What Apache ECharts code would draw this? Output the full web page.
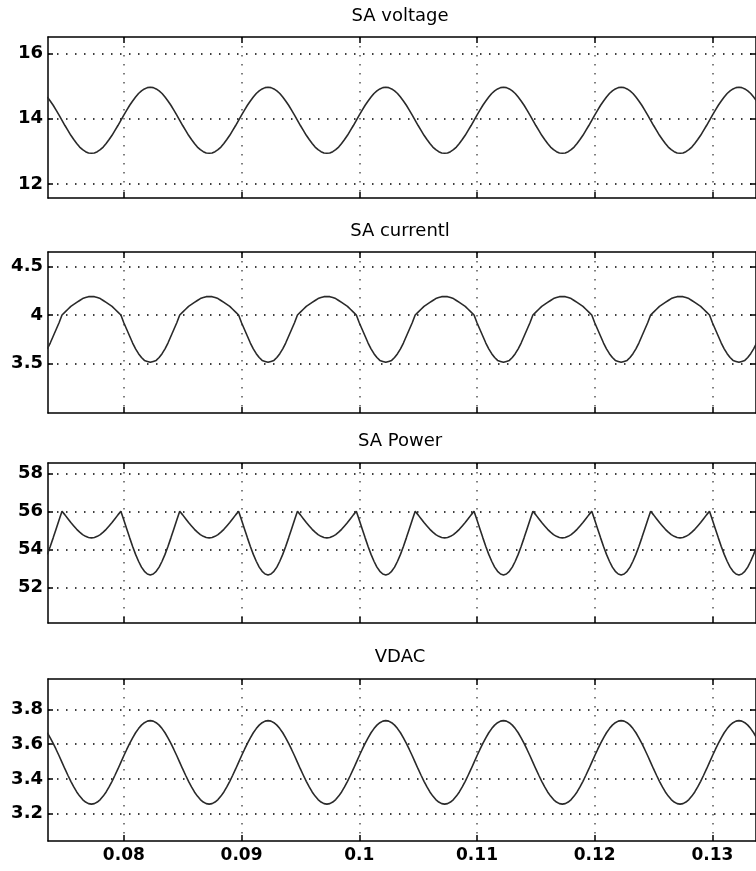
<!DOCTYPE html>
<html>
<head>
<meta charset="utf-8">
<script src="https://cdn.jsdelivr.net/npm/echarts@6/dist/echarts.min.js"></script>
<style>
html,body{margin:0;padding:0;background:#fff;}
#c{width:756px;height:871px;}
</style>
</head>
<body>
<div id="c"></div>
<script>
// ---- data (sampled every 0.25 ms starting at t = 0.0735 s) ----
const tStart = 0.0735;
const tStep = 0.00025;

const titles = ["SA voltage", "SA currentl", "SA Power", "VDAC"];
const xTicks = [0.08, 0.09, 0.1, 0.11, 0.12, 0.13];
const yTicksVoltage = [12, 14, 16];
const yTicksCurrent = [3.5, 4, 4.5];
const yTicksPower = [52, 54, 56, 58];
const yTicksVdac = [3.2, 3.4, 3.6, 3.8];

const saVoltage = [
14.66,14.54,14.41,14.26,14.11,13.95,13.79,13.64,13.49,13.36,13.24,13.13,13.05,12.99,12.95,12.94,12.95,12.99,13.05,13.13,13.24,13.36,13.49,13.64,13.79,13.95,14.11,14.26,14.41,14.54,14.66,14.77,14.85,14.91,14.95,14.96,14.95,14.91,14.85,14.77,
14.66,14.54,14.41,14.26,14.11,13.95,13.79,13.64,13.49,13.36,13.24,13.13,13.05,12.99,12.95,12.94,12.95,12.99,13.05,13.13,13.24,13.36,13.49,13.64,13.79,13.95,14.11,14.26,14.41,14.54,14.66,14.77,14.85,14.91,14.95,14.96,14.95,14.91,14.85,14.77,
14.66,14.54,14.41,14.26,14.11,13.95,13.79,13.64,13.49,13.36,13.24,13.13,13.05,12.99,12.95,12.94,12.95,12.99,13.05,13.13,13.24,13.36,13.49,13.64,13.79,13.95,14.11,14.26,14.41,14.54,14.66,14.77,14.85,14.91,14.95,14.96,14.95,14.91,14.85,14.77,
14.66,14.54,14.41,14.26,14.11,13.95,13.79,13.64,13.49,13.36,13.24,13.13,13.05,12.99,12.95,12.94,12.95,12.99,13.05,13.13,13.24,13.36,13.49,13.64,13.79,13.95,14.11,14.26,14.41,14.54,14.66,14.77,14.85,14.91,14.95,14.96,14.95,14.91,14.85,14.77,
14.66,14.54,14.41,14.26,14.11,13.95,13.79,13.64,13.49,13.36,13.24,13.13,13.05,12.99,12.95,12.94,12.95,12.99,13.05,13.13,13.24,13.36,13.49,13.64,13.79,13.95,14.11,14.26,14.41,14.54,14.66,14.77,14.85,14.91,14.95,14.96,14.95,14.91,14.85,14.77,
14.66,14.54,14.41,14.26,14.11,13.95,13.79,13.64,13.49,13.36,13.24,13.13,13.05,12.99,12.95,12.94,12.95,12.99,13.05,13.13,13.24,13.36,13.49,13.64,13.79,13.95,14.11,14.26,14.41,14.54,14.66,14.77,14.85,14.91,14.95,14.96,14.95,14.91,14.85,14.77,
14.66,14.54
];

const saCurrent = [
3.65,3.71,3.78,3.85,3.92,4.00,4.03,4.06,4.09,4.11,4.13,4.15,4.17,4.18,4.19,4.19,4.19,4.18,4.17,4.15,4.13,4.11,4.09,4.06,4.03,4.00,3.92,3.85,3.78,3.71,3.65,3.60,3.56,3.53,3.52,3.51,3.52,3.53,3.56,3.60,
3.65,3.71,3.78,3.85,3.92,4.00,4.03,4.06,4.09,4.11,4.13,4.15,4.17,4.18,4.19,4.19,4.19,4.18,4.17,4.15,4.13,4.11,4.09,4.06,4.03,4.00,3.92,3.85,3.78,3.71,3.65,3.60,3.56,3.53,3.52,3.51,3.52,3.53,3.56,3.60,
3.65,3.71,3.78,3.85,3.92,4.00,4.03,4.06,4.09,4.11,4.13,4.15,4.17,4.18,4.19,4.19,4.19,4.18,4.17,4.15,4.13,4.11,4.09,4.06,4.03,4.00,3.92,3.85,3.78,3.71,3.65,3.60,3.56,3.53,3.52,3.51,3.52,3.53,3.56,3.60,
3.65,3.71,3.78,3.85,3.92,4.00,4.03,4.06,4.09,4.11,4.13,4.15,4.17,4.18,4.19,4.19,4.19,4.18,4.17,4.15,4.13,4.11,4.09,4.06,4.03,4.00,3.92,3.85,3.78,3.71,3.65,3.60,3.56,3.53,3.52,3.51,3.52,3.53,3.56,3.60,
3.65,3.71,3.78,3.85,3.92,4.00,4.03,4.06,4.09,4.11,4.13,4.15,4.17,4.18,4.19,4.19,4.19,4.18,4.17,4.15,4.13,4.11,4.09,4.06,4.03,4.00,3.92,3.85,3.78,3.71,3.65,3.60,3.56,3.53,3.52,3.51,3.52,3.53,3.56,3.60,
3.65,3.71,3.78,3.85,3.92,4.00,4.03,4.06,4.09,4.11,4.13,4.15,4.17,4.18,4.19,4.19,4.19,4.18,4.17,4.15,4.13,4.11,4.09,4.06,4.03,4.00,3.92,3.85,3.78,3.71,3.65,3.60,3.56,3.53,3.52,3.51,3.52,3.53,3.56,3.60,
3.65,3.71
];

const saPower = [
53.73,54.15,54.60,55.07,55.54,56.00,55.81,55.61,55.41,55.23,55.05,54.90,54.77,54.68,54.62,54.60,54.62,54.68,54.77,54.90,55.05,55.23,55.41,55.61,55.81,56.00,55.54,55.07,54.60,54.15,53.73,53.37,53.06,52.84,52.70,52.65,52.70,52.84,53.06,53.37,
53.73,54.15,54.60,55.07,55.54,56.00,55.81,55.61,55.41,55.23,55.05,54.90,54.77,54.68,54.62,54.60,54.62,54.68,54.77,54.90,55.05,55.23,55.41,55.61,55.81,56.00,55.54,55.07,54.60,54.15,53.73,53.37,53.06,52.84,52.70,52.65,52.70,52.84,53.06,53.37,
53.73,54.15,54.60,55.07,55.54,56.00,55.81,55.61,55.41,55.23,55.05,54.90,54.77,54.68,54.62,54.60,54.62,54.68,54.77,54.90,55.05,55.23,55.41,55.61,55.81,56.00,55.54,55.07,54.60,54.15,53.73,53.37,53.06,52.84,52.70,52.65,52.70,52.84,53.06,53.37,
53.73,54.15,54.60,55.07,55.54,56.00,55.81,55.61,55.41,55.23,55.05,54.90,54.77,54.68,54.62,54.60,54.62,54.68,54.77,54.90,55.05,55.23,55.41,55.61,55.81,56.00,55.54,55.07,54.60,54.15,53.73,53.37,53.06,52.84,52.70,52.65,52.70,52.84,53.06,53.37,
53.73,54.15,54.60,55.07,55.54,56.00,55.81,55.61,55.41,55.23,55.05,54.90,54.77,54.68,54.62,54.60,54.62,54.68,54.77,54.90,55.05,55.23,55.41,55.61,55.81,56.00,55.54,55.07,54.60,54.15,53.73,53.37,53.06,52.84,52.70,52.65,52.70,52.84,53.06,53.37,
53.73,54.15,54.60,55.07,55.54,56.00,55.81,55.61,55.41,55.23,55.05,54.90,54.77,54.68,54.62,54.60,54.62,54.68,54.77,54.90,55.05,55.23,55.41,55.61,55.81,56.00,55.54,55.07,54.60,54.15,53.73,53.37,53.06,52.84,52.70,52.65,52.70,52.84,53.06,53.37,
53.73,54.15
];

const vdac = [
3.665,3.636,3.604,3.569,3.533,3.495,3.457,3.421,3.386,3.354,3.325,3.301,3.281,3.267,3.258,3.255,3.258,3.267,3.281,3.301,3.325,3.354,3.386,3.421,3.457,3.495,3.533,3.569,3.604,3.636,3.665,3.689,3.709,3.723,3.732,3.735,3.732,3.723,3.709,3.689,
3.665,3.636,3.604,3.569,3.533,3.495,3.457,3.421,3.386,3.354,3.325,3.301,3.281,3.267,3.258,3.255,3.258,3.267,3.281,3.301,3.325,3.354,3.386,3.421,3.457,3.495,3.533,3.569,3.604,3.636,3.665,3.689,3.709,3.723,3.732,3.735,3.732,3.723,3.709,3.689,
3.665,3.636,3.604,3.569,3.533,3.495,3.457,3.421,3.386,3.354,3.325,3.301,3.281,3.267,3.258,3.255,3.258,3.267,3.281,3.301,3.325,3.354,3.386,3.421,3.457,3.495,3.533,3.569,3.604,3.636,3.665,3.689,3.709,3.723,3.732,3.735,3.732,3.723,3.709,3.689,
3.665,3.636,3.604,3.569,3.533,3.495,3.457,3.421,3.386,3.354,3.325,3.301,3.281,3.267,3.258,3.255,3.258,3.267,3.281,3.301,3.325,3.354,3.386,3.421,3.457,3.495,3.533,3.569,3.604,3.636,3.665,3.689,3.709,3.723,3.732,3.735,3.732,3.723,3.709,3.689,
3.665,3.636,3.604,3.569,3.533,3.495,3.457,3.421,3.386,3.354,3.325,3.301,3.281,3.267,3.258,3.255,3.258,3.267,3.281,3.301,3.325,3.354,3.386,3.421,3.457,3.495,3.533,3.569,3.604,3.636,3.665,3.689,3.709,3.723,3.732,3.735,3.732,3.723,3.709,3.689,
3.665,3.636,3.604,3.569,3.533,3.495,3.457,3.421,3.386,3.354,3.325,3.301,3.281,3.267,3.258,3.255,3.258,3.267,3.281,3.301,3.325,3.354,3.386,3.421,3.457,3.495,3.533,3.569,3.604,3.636,3.665,3.689,3.709,3.723,3.732,3.735,3.732,3.723,3.709,3.689,
3.665,3.636
];

// ---- chart construction ----
const times = saVoltage.map((_, k) => +(tStart + k * tStep).toFixed(5));
const seriesValues = [saVoltage, saCurrent, saPower, vdac];
const yTickSets = [yTicksVoltage, yTicksCurrent, yTicksPower, yTicksVdac];

const panels = [
  { top: 37,  height: 161, yMin: 11.571, yMax: 16.5,  titleY: 16 },
  { top: 252, height: 161, yMin: 2.986,  yMax: 4.652, titleY: 231 },
  { top: 463, height: 160, yMin: 50.12,  yMax: 58.54, titleY: 441 },
  { top: 679, height: 162, yMin: 3.043,  yMax: 3.974, titleY: 657 }
];
const xMin = 0.07356, xMax = 0.13370;
const gridLeft = 48, gridWidth = 710;

const black = '#000';
const labelFont = { color: black, fontFamily: 'DejaVu Sans', fontWeight: 'bold', fontSize: 17 };

const grid = [], xAxis = [], yAxis = [], series = [], graphic = [];
panels.forEach((p, i) => {
  grid.push({ left: gridLeft, top: p.top, width: gridWidth, height: p.height, containLabel: false });
  const xi = xAxis.length;
  xAxis.push({
    type: 'value', gridIndex: i, min: xMin, max: xMax, position: 'bottom',
    axisLine: { show: true, onZero: false, lineStyle: { color: black, width: 1.5 } },
    axisTick: { show: true, inside: true, length: 6, customValues: xTicks, lineStyle: { color: black, width: 1.5 } },
    axisLabel: Object.assign({ show: i === 3, customValues: xTicks, margin: 6 }, labelFont),
    splitLine: { show: true, lineStyle: { color: '#555', width: 1.5, type: [1.5, 7.5] } }
  });
  xAxis.push({
    type: 'value', gridIndex: i, min: xMin, max: xMax, position: 'top',
    axisLine: { show: true, onZero: false, lineStyle: { color: black, width: 1.5 } },
    axisTick: { show: true, inside: true, length: 6, customValues: xTicks, lineStyle: { color: black, width: 1.5 } },
    axisLabel: { show: false },
    splitLine: { show: false }
  });
  const yi = yAxis.length;
  yAxis.push({
    type: 'value', gridIndex: i, min: p.yMin, max: p.yMax, position: 'left',
    axisLine: { show: true, onZero: false, lineStyle: { color: black, width: 1.5 } },
    axisTick: { show: true, inside: true, length: 5, customValues: yTickSets[i], lineStyle: { color: black, width: 1.5 } },
    axisLabel: { show: true, customValues: yTickSets[i], margin: 5, fontSize: 18, color: black, fontFamily: 'DejaVu Sans', fontWeight: 'bold' },
    splitLine: { show: true, lineStyle: { color: black, width: 1.5, type: [1.5, 7.5] } }
  });
  yAxis.push({
    type: 'value', gridIndex: i, min: p.yMin, max: p.yMax, position: 'right',
    axisLine: { show: true, onZero: false, lineStyle: { color: black, width: 1.5 } },
    axisTick: { show: true, inside: true, length: 6, customValues: yTickSets[i], lineStyle: { color: black, width: 1.5 } },
    axisLabel: { show: false },
    splitLine: { show: false }
  });
  series.push({
    type: 'line', xAxisIndex: xi, yAxisIndex: yi,
    data: times.map((t, k) => [t, seriesValues[i][k]]),
    showSymbol: false, symbol: 'none', clip: true,
    lineStyle: { color: '#2a2a2a', width: 1.6 },
    animation: false, silent: true
  });
  graphic.push({
    type: 'text', x: 400, y: p.titleY,
    style: { text: titles[i], textAlign: 'center', textVerticalAlign: 'middle',
             font: '18px "DejaVu Sans"', fill: black }
  });
});

const chart = echarts.init(document.getElementById('c'), null, { renderer: 'canvas' });
chart.setOption({
  backgroundColor: '#fff',
  animation: false,
  grid, xAxis, yAxis, series, graphic
});
</script>
</body>
</html>
